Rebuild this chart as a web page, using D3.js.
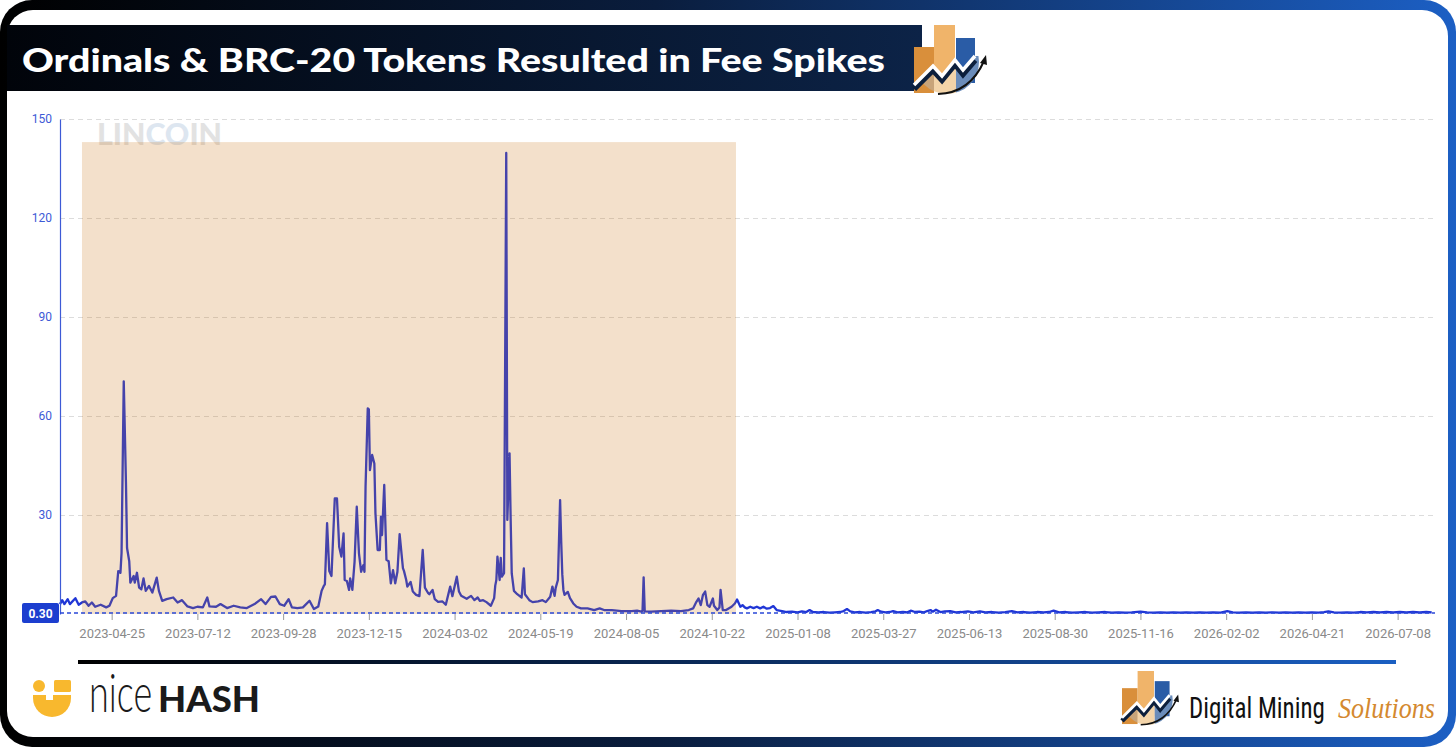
<!DOCTYPE html>
<html lang="en">
<head>
<meta charset="UTF-8">
<title>Ordinals & BRC-20 Tokens Resulted in Fee Spikes</title>
<style>
  * { margin: 0; padding: 0; box-sizing: border-box; }
  body { background: #fff; overflow: hidden; }
  svg { display: block; }
  .ylab text { font-family: Roboto, sans-serif; font-size: 12px; fill: #3d5ad6; }
  .xlab text { font-family: Roboto, sans-serif; font-size: 13px; fill: #8a8a8a; }
</style>
</head>
<body>
<svg id="chart" width="1456" height="747"></svg>
<script src="https://cdn.jsdelivr.net/npm/d3@7"></script>
<script>
  // fee series, [date, value]
  const feeSeries2023 = [
    ["2023-03-09", 3.0], ["2023-03-11", 4.2], ["2023-03-13", 3.0], ["2023-03-16", 4.5], ["2023-03-18", 3.0],
    ["2023-03-23", 4.8], ["2023-03-26", 2.8], ["2023-03-29", 3.5], ["2023-04-01", 3.8], ["2023-04-04", 2.5],
    ["2023-04-07", 3.5], ["2023-04-10", 2.2], ["2023-04-15", 2.8], ["2023-04-20", 2.0], ["2023-04-23", 2.5],
    ["2023-04-26", 4.8], ["2023-04-29", 5.5], ["2023-05-01", 13.0], ["2023-05-03", 12.5], ["2023-05-04", 18.5],
    ["2023-05-06", 70.5], ["2023-05-08", 40], ["2023-05-09", 20], ["2023-05-11", 16], ["2023-05-12", 9.5],
    ["2023-05-15", 11.5], ["2023-05-16", 9.5], ["2023-05-18", 12.5], ["2023-05-20", 8.0], ["2023-05-22", 7.5],
    ["2023-05-24", 10.8], ["2023-05-26", 7.0], ["2023-05-29", 8.5], ["2023-06-01", 6.5], ["2023-06-05", 11.0],
    ["2023-06-07", 7.0], ["2023-06-10", 4.0], ["2023-06-14", 4.5], ["2023-06-20", 5.0], ["2023-06-24", 3.5],
    ["2023-06-28", 4.2], ["2023-07-03", 2.3], ["2023-07-08", 1.8], ["2023-07-12", 2.2], ["2023-07-17", 2.0],
    ["2023-07-21", 5.0], ["2023-07-23", 2.3], ["2023-07-29", 2.2], ["2023-08-02", 3.0], ["2023-08-08", 1.8],
    ["2023-08-14", 2.5], ["2023-08-20", 2.0], ["2023-08-26", 1.8], ["2023-09-02", 3.0], ["2023-09-08", 4.5],
    ["2023-09-12", 3.0], ["2023-09-17", 5.2], ["2023-09-21", 5.3], ["2023-09-25", 3.0], ["2023-09-29", 2.5],
    ["2023-10-03", 4.5], ["2023-10-06", 2.0], ["2023-10-11", 1.8], ["2023-10-16", 2.0], ["2023-10-22", 4.0],
    ["2023-10-26", 1.5], ["2023-10-30", 2.3], ["2023-11-02", 7.0], ["2023-11-04", 8.5], ["2023-11-05", 9.0],
    ["2023-11-07", 27.5], ["2023-11-09", 13], ["2023-11-11", 11.5], ["2023-11-14", 35], ["2023-11-16", 35],
    ["2023-11-18", 20.4], ["2023-11-20", 17.4], ["2023-11-22", 24.4], ["2023-11-23", 10.3], ["2023-11-25", 10.0],
    ["2023-11-27", 7.3], ["2023-11-28", 10.8], ["2023-11-30", 7.3], ["2023-12-02", 15.8], ["2023-12-04", 32.5],
    ["2023-12-06", 18.4], ["2023-12-08", 12.8], ["2023-12-10", 14.8], ["2023-12-11", 12.8], ["2023-12-12", 38.6],
    ["2023-12-14", 62.3], ["2023-12-15", 62.0], ["2023-12-16", 43.6], ["2023-12-18", 48.2], ["2023-12-20", 45.6],
    ["2023-12-21", 30.5], ["2023-12-23", 19.4], ["2023-12-25", 19.4], ["2023-12-26", 29.5], ["2023-12-27", 23.9],
    ["2023-12-29", 39.1], ["2023-12-31", 16.4]
  ];
  const feeSeries2024 = [
    ["2024-01-02", 16.0], ["2024-01-04", 9.3], ["2024-01-06", 13.3], ["2024-01-08", 9.3], ["2024-01-10", 12.8],
    ["2024-01-12", 24.2], ["2024-01-15", 13.9], ["2024-01-16", 13.0], ["2024-01-18", 10.3], ["2024-01-19", 8.3],
    ["2024-01-22", 9.7], ["2024-01-24", 6.8], ["2024-01-27", 5.8], ["2024-01-30", 5.4], ["2024-02-02", 19.4],
    ["2024-02-04", 8.0], ["2024-02-07", 6.3], ["2024-02-08", 6.0], ["2024-02-11", 7.3], ["2024-02-13", 4.5],
    ["2024-02-16", 3.7], ["2024-02-20", 3.8], ["2024-02-23", 2.8], ["2024-02-27", 8.3], ["2024-02-29", 5.4],
    ["2024-03-04", 11.3], ["2024-03-06", 6.8], ["2024-03-08", 5.5], ["2024-03-13", 4.6], ["2024-03-17", 5.5],
    ["2024-03-20", 4.2], ["2024-03-23", 5.0], ["2024-03-25", 4.0], ["2024-03-28", 4.2], ["2024-03-31", 3.6],
    ["2024-04-04", 2.5], ["2024-04-07", 4.8], ["2024-04-08", 8.6], ["2024-04-09", 10.3], ["2024-04-10", 17.4],
    ["2024-04-12", 10.3], ["2024-04-13", 17.0], ["2024-04-14", 11.3], ["2024-04-16", 12.4], ["2024-04-18", 139.7],
    ["2024-04-19", 28.5], ["2024-04-21", 48.7], ["2024-04-22", 29.0], ["2024-04-23", 12.3], ["2024-04-25", 7.0],
    ["2024-04-28", 6.0], ["2024-05-02", 5.0], ["2024-05-04", 13.8], ["2024-05-05", 6.0], ["2024-05-09", 4.2],
    ["2024-05-12", 3.6], ["2024-05-17", 3.8], ["2024-05-21", 4.2], ["2024-05-24", 3.6], ["2024-05-28", 5.2],
    ["2024-05-30", 8.3], ["2024-06-01", 5.5], ["2024-06-02", 7.9], ["2024-06-04", 10.3], ["2024-06-06", 34.5],
    ["2024-06-07", 22.0], ["2024-06-08", 12.0], ["2024-06-09", 7.3], ["2024-06-10", 5.8], ["2024-06-13", 6.7],
    ["2024-06-15", 4.8], ["2024-06-18", 3.2], ["2024-06-21", 2.2], ["2024-06-25", 1.7], ["2024-07-01", 1.7],
    ["2024-07-07", 1.2], ["2024-07-12", 1.7], ["2024-07-16", 1.2], ["2024-07-23", 1.2], ["2024-08-01", 0.9],
    ["2024-08-10", 0.9], ["2024-08-15", 1.0], ["2024-08-19", 0.7], ["2024-08-20", 1.0], ["2024-08-21", 11.1],
    ["2024-08-22", 0.8], ["2024-08-28", 0.7], ["2024-09-06", 0.9], ["2024-09-15", 1.0], ["2024-09-24", 0.9],
    ["2024-10-01", 1.2], ["2024-10-05", 1.7], ["2024-10-08", 3.7], ["2024-10-10", 4.7], ["2024-10-12", 2.7],
    ["2024-10-14", 5.8], ["2024-10-16", 6.8], ["2024-10-18", 2.7], ["2024-10-20", 2.2], ["2024-10-23", 4.7],
    ["2024-10-24", 2.5], ["2024-10-27", 1.2], ["2024-10-29", 2.0], ["2024-10-30", 7.3], ["2024-11-01", 1.2],
    ["2024-11-04", 1.2], ["2024-11-09", 2.2], ["2024-11-12", 3.2], ["2024-11-14", 4.4], ["2024-11-17", 2.2],
    ["2024-11-19", 2.7], ["2024-11-21", 2.0], ["2024-11-23", 1.7], ["2024-11-26", 2.2], ["2024-11-29", 1.8],
    ["2024-12-02", 2.2], ["2024-12-05", 1.7], ["2024-12-08", 2.2], ["2024-12-11", 1.6], ["2024-12-14", 1.8],
    ["2024-12-17", 2.4], ["2024-12-20", 1.2], ["2024-12-25", 0.9], ["2024-12-29", 0.6]
  ];
  const feeSeries2025on = [
    ["2025-01-03", 0.7], ["2025-01-08", 0.5], ["2025-01-12", 0.8], ["2025-01-16", 0.6], ["2025-01-19", 1.2],
    ["2025-01-22", 0.6], ["2025-01-27", 0.5], ["2025-02-01", 0.6], ["2025-02-06", 0.4], ["2025-02-11", 0.5],
    ["2025-02-16", 0.6], ["2025-02-19", 0.9], ["2025-02-22", 1.5], ["2025-02-25", 0.8], ["2025-03-01", 0.5],
    ["2025-03-06", 0.6], ["2025-03-11", 0.4], ["2025-03-16", 0.6], ["2025-03-20", 0.8], ["2025-03-22", 1.2],
    ["2025-03-25", 0.7], ["2025-03-29", 0.5], ["2025-04-02", 0.6], ["2025-04-05", 0.9], ["2025-04-09", 0.5],
    ["2025-04-14", 0.6], ["2025-04-18", 0.5], ["2025-04-21", 1.0], ["2025-04-25", 0.6], ["2025-04-29", 0.7],
    ["2025-05-03", 0.5], ["2025-05-06", 0.9], ["2025-05-09", 1.2], ["2025-05-11", 0.7], ["2025-05-14", 1.3],
    ["2025-05-18", 0.6], ["2025-05-22", 0.8], ["2025-05-27", 0.9], ["2025-06-01", 0.5], ["2025-06-06", 0.6],
    ["2025-06-12", 0.8], ["2025-06-17", 0.5], ["2025-06-23", 0.8], ["2025-06-28", 0.5], ["2025-07-04", 0.6],
    ["2025-07-10", 0.4], ["2025-07-16", 0.6], ["2025-07-22", 0.9], ["2025-07-27", 0.5], ["2025-08-02", 0.6],
    ["2025-08-08", 0.4], ["2025-08-14", 0.6], ["2025-08-20", 0.5], ["2025-08-25", 0.6], ["2025-08-29", 1.0],
    ["2025-09-03", 0.5], ["2025-09-09", 0.6], ["2025-09-15", 0.4], ["2025-09-21", 0.5], ["2025-09-27", 0.6],
    ["2025-10-03", 0.4], ["2025-10-09", 0.5], ["2025-10-15", 0.6], ["2025-10-21", 0.4], ["2025-10-27", 0.5],
    ["2025-11-02", 0.4], ["2025-11-08", 0.5], ["2025-11-16", 0.7], ["2025-11-22", 0.5], ["2025-11-28", 0.4],
    ["2025-12-04", 0.5], ["2025-12-10", 0.4], ["2025-12-16", 0.5], ["2025-12-22", 0.4], ["2025-12-28", 0.5],
    ["2026-01-03", 0.4], ["2026-01-09", 0.5], ["2026-01-15", 0.4], ["2026-01-21", 0.5], ["2026-01-28", 0.4],
    ["2026-02-03", 0.9], ["2026-02-08", 0.5], ["2026-02-14", 0.4], ["2026-02-20", 0.5], ["2026-02-26", 0.4],
    ["2026-03-04", 0.5], ["2026-03-10", 0.4], ["2026-03-16", 0.5], ["2026-03-22", 0.4], ["2026-03-28", 0.5],
    ["2026-04-03", 0.4], ["2026-04-09", 0.5], ["2026-04-15", 0.4], ["2026-04-21", 0.5], ["2026-04-27", 0.4],
    ["2026-05-02", 0.6], ["2026-05-06", 0.8], ["2026-05-11", 0.5], ["2026-05-17", 0.4], ["2026-05-23", 0.5],
    ["2026-05-29", 0.4], ["2026-06-04", 0.6], ["2026-06-10", 0.5], ["2026-06-16", 0.6], ["2026-06-22", 0.5],
    ["2026-06-28", 0.6], ["2026-07-04", 0.5], ["2026-07-10", 0.6], ["2026-07-16", 0.5], ["2026-07-22", 0.6],
    ["2026-07-28", 0.5], ["2026-08-03", 0.6], ["2026-08-08", 0.5]
  ];

  const yTicks = [30, 60, 90, 120, 150];
  const xTickLabels = ["2023-04-25", "2023-07-12", "2023-09-28", "2023-12-15", "2024-03-02", "2024-05-19",
    "2024-08-05", "2024-10-22", "2025-01-08", "2025-03-27", "2025-06-13", "2025-08-30", "2025-11-16",
    "2026-02-02", "2026-04-21", "2026-07-08"];
  const xDomain = ["2023-03-09", "2026-08-11"];
  const highlightRange = ["2023-03-29", "2024-11-13"];
  const highlightTop = 143;
  const currentValue = 0.30;
  const title = "Ordinals & BRC-20 Tokens Resulted in Fee Spikes";

  const parse = d3.utcParse("%Y-%m-%d");
  const series = [...feeSeries2023, ...feeSeries2024, ...feeSeries2025on]
    .map(([d, v]) => ({ date: parse(d), value: v }));

  const W = 1456, H = 747;
  const plotLeft = 60, plotRight = 1435, plotBottom = 614, plotTop = 119;

  const svg = d3.select("#chart");
  const defs = svg.append("defs");

  // gradients
  const frameGrad = defs.append("linearGradient").attr("id", "frameGrad").attr("x1", 0).attr("x2", 1);
  frameGrad.append("stop").attr("offset", "0%").attr("stop-color", "#000000");
  frameGrad.append("stop").attr("offset", "45%").attr("stop-color", "#0a1d3d");
  frameGrad.append("stop").attr("offset", "100%").attr("stop-color", "#1c5fc4");

  const bannerGrad = defs.append("linearGradient").attr("id", "bannerGrad").attr("x1", 0).attr("x2", 1);
  bannerGrad.append("stop").attr("offset", "0%").attr("stop-color", "#01040a");
  bannerGrad.append("stop").attr("offset", "100%").attr("stop-color", "#0c2347");

  const ruleGrad = defs.append("linearGradient").attr("id", "ruleGrad").attr("x1", 0).attr("x2", 1);
  ruleGrad.append("stop").attr("offset", "0%").attr("stop-color", "#000000");
  ruleGrad.append("stop").attr("offset", "50%").attr("stop-color", "#0b2c5e");
  ruleGrad.append("stop").attr("offset", "100%").attr("stop-color", "#1b5fc2");

  // logo clip paths (local coords)
  defs.append("clipPath").attr("id", "logoDisk").attr("clipPathUnits", "userSpaceOnUse")
    .append("circle").attr("cx", 33).attr("cy", 37).attr("r", 32);
  defs.append("clipPath").attr("id", "logoBelow").attr("clipPathUnits", "userSpaceOnUse")
    .append("path").attr("d", "M0,60 L19,41 L28,51 L41,35 L49,45 L61,31 L70,31 L70,80 L0,80 Z");

  // frame + white panel
  svg.append("rect").attr("width", W).attr("height", H).attr("rx", 32).attr("fill", "url(#frameGrad)");
  svg.append("rect").attr("x", 7).attr("y", 10).attr("width", 1441).attr("height", 727).attr("rx", 26).attr("fill", "#fff");

  // title banner
  svg.append("rect").attr("x", 7).attr("y", 25).attr("width", 915).attr("height", 66).attr("fill", "url(#bannerGrad)");
  svg.append("text").attr("x", 22).attr("y", 72)
    .attr("font-family", "Lato, sans-serif").attr("font-weight", 900).attr("font-size", 33)
    .attr("fill", "#fff").attr("textLength", 863).attr("lengthAdjust", "spacingAndGlyphs")
    .text(title);

  function drawLogo(tx, ty, s) {
    const g = svg.append("g").attr("transform", `translate(${tx},${ty}) scale(${s})`);
    g.append("rect").attr("x", 0).attr("y", 22).attr("width", 20).attr("height", 46).attr("fill", "#d98f3b");
    g.append("rect").attr("x", 20).attr("y", 0).attr("width", 21).attr("height", 60).attr("fill", "#f0b46a");
    g.append("rect").attr("x", 42).attr("y", 13).attr("width", 19).attr("height", 45).attr("fill", "#2a5ca6");
    const low = g.append("g").attr("clip-path", "url(#logoDisk)").append("g").attr("clip-path", "url(#logoBelow)");
    low.append("rect").attr("x", -5).attr("y", 25).attr("width", 25).attr("height", 50).attr("fill", "#c8a47a");
    low.append("rect").attr("x", 20).attr("y", 25).attr("width", 22).attr("height", 50).attr("fill", "#f3d4a9");
    low.append("rect").attr("x", 42).attr("y", 25).attr("width", 25).attr("height", 50).attr("fill", "#6a8cba");
    const zig = "0,60 19,41 28,51 41,35 49,45 61,31";
    g.append("polyline").attr("points", zig).attr("transform", "translate(0,4)")
      .attr("fill", "none").attr("stroke", "#0c1f3c").attr("stroke-width", 6);
    g.append("polyline").attr("points", zig).attr("fill", "none").attr("stroke", "#fff").attr("stroke-width", 3.5);
    g.append("path").attr("d", "M24,69 Q56,68 70,36").attr("fill", "none").attr("stroke", "#111").attr("stroke-width", 2);
    g.append("path").attr("d", "M66,38 L72,30 L73,40 Z").attr("fill", "#111");
  }
  drawLogo(914, 25, 1);

  const x = d3.scaleUtc().domain(xDomain.map(parse)).range([plotLeft, plotRight]);
  const y = d3.scaleLinear().domain([0, 150]).range([plotBottom, plotTop]);

  // gridlines
  svg.append("g")
    .attr("transform", `translate(${plotLeft},0)`)
    .call(d3.axisLeft(y).tickValues(yTicks).tickSize(-(plotRight - plotLeft)).tickFormat(""))
    .call(g => g.select(".domain").remove())
    .call(g => g.selectAll("line").attr("stroke", "#dcdcdc").attr("stroke-dasharray", "5,4"));

  // watermark
  const wm = svg.append("text").attr("x", 97).attr("y", 145)
    .attr("font-family", "Lato, sans-serif").attr("font-weight", 900).attr("font-size", 30)
    .attr("textLength", 125).attr("lengthAdjust", "spacingAndGlyphs").attr("fill", "#e2e2e2");
  wm.append("tspan").text("LIN");
  wm.append("tspan").attr("fill", "#dde6f0").text("CO");
  wm.append("tspan").text("IN");

  // fee line
  const line = d3.line().x(d => x(d.date)).y(d => y(d.value)).curve(d3.curveLinear);
  svg.append("path").datum(series)
    .attr("d", line).attr("fill", "none").attr("stroke", "#2036d6")
    .attr("stroke-width", 2.3).attr("stroke-linejoin", "round");

  // highlighted period overlay
  const [h0, h1] = highlightRange.map(parse);
  svg.append("rect")
    .attr("x", x(h0)).attr("y", y(highlightTop))
    .attr("width", x(h1) - x(h0)).attr("height", y(0) - y(highlightTop))
    .attr("fill", "rgb(200,115,20)").attr("opacity", 0.22);

  // y axis
  svg.append("g").attr("class", "ylab")
    .attr("transform", `translate(${plotLeft},0)`)
    .call(d3.axisLeft(y).tickValues(yTicks).tickSize(0).tickPadding(8).tickSizeOuter(0))
    .call(g => g.select(".domain").attr("stroke", "#3d5ad6").attr("stroke-width", 1.2));

  // x axis
  svg.append("g").attr("class", "xlab")
    .attr("transform", `translate(0,${plotBottom})`)
    .call(d3.axisBottom(x).tickValues(xTickLabels.map(parse)).tickFormat(d3.utcFormat("%Y-%m-%d")).tickSize(6).tickPadding(9))
    .call(g => g.select(".domain").remove())
    .call(g => g.selectAll(".tick line").attr("stroke", "#9a9a9a"));

  // current value marker
  svg.append("line")
    .attr("x1", plotLeft).attr("x2", plotRight).attr("y1", y(currentValue)).attr("y2", y(currentValue))
    .attr("stroke", "#2a48d8").attr("stroke-width", 1.5).attr("stroke-dasharray", "4,3");
  svg.append("rect").attr("x", 22).attr("y", y(currentValue) - 10).attr("width", 37).attr("height", 20)
    .attr("rx", 2).attr("fill", "#1c3ecf");
  svg.append("text").attr("x", 40.5).attr("y", y(currentValue) + 4.5).attr("text-anchor", "middle")
    .attr("font-family", "Roboto, sans-serif").attr("font-weight", 700).attr("font-size", 12).attr("fill", "#fff")
    .text(d3.format(".2f")(currentValue));

  // bottom rule
  svg.append("rect").attr("x", 78).attr("y", 660).attr("width", 1318).attr("height", 4).attr("fill", "url(#ruleGrad)");

  // NiceHash mark
  const nh = svg.append("g");
  nh.append("circle").attr("cx", 39).attr("cy", 686).attr("r", 6).attr("fill", "#f8b82e");
  nh.append("rect").attr("x", 54).attr("y", 680).attr("width", 17).attr("height", 12).attr("rx", 1.5).attr("fill", "#f8b82e");
  nh.append("path").attr("d", "M33,695 H71 V698 A19,19 0 0 1 33,698 Z").attr("fill", "#f8b82e");
  nh.append("rect").attr("x", 46).attr("y", 694).attr("width", 7).attr("height", 6).attr("fill", "#fff");
  // "nice" is tall and thin: normal width, stretched vertically
  nh.append("text").attr("transform", "translate(89,712) scale(1,1.45)")
    .attr("font-family", "Lato, sans-serif").attr("font-weight", 300).attr("font-size", 36)
    .attr("fill", "#1a1a1a").text("nice");
  nh.append("text").attr("x", 158).attr("y", 712)
    .attr("font-family", "Lato, sans-serif").attr("font-weight", 900).attr("font-size", 36)
    .attr("textLength", 102).attr("lengthAdjust", "spacingAndGlyphs").attr("fill", "#1a1a1a").text("HASH");

  // Digital Mining Solutions mark
  drawLogo(1122, 671, 0.78);
  svg.append("text").attr("transform", "translate(1189,718) scale(1,1.15)")
    .attr("font-family", "'Liberation Sans Narrow', 'Roboto Condensed', sans-serif").attr("font-size", 25)
    .attr("fill", "#111").text("Digital Mining");
  svg.append("text").attr("transform", "translate(1338,718) scale(1,1.1)")
    .attr("font-family", "'Liberation Serif', serif").attr("font-style", "italic").attr("font-size", 26)
    .attr("fill", "#d4892f").text("Solutions");
</script>
</body>
</html>
